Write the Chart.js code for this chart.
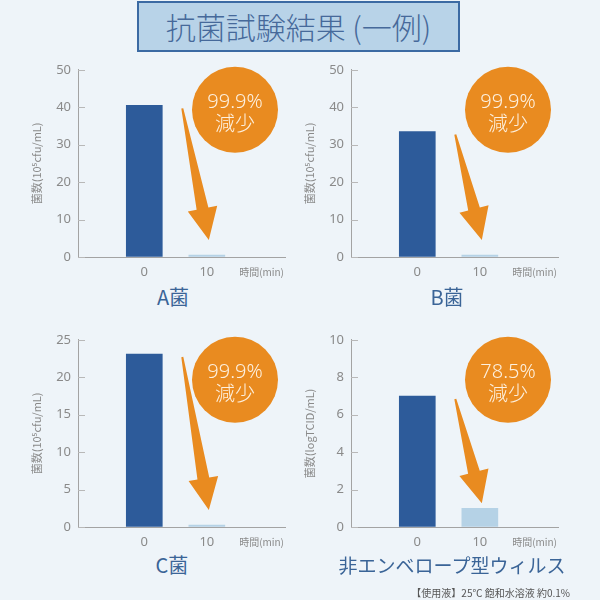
<!DOCTYPE html>
<html lang="ja">
<head>
<meta charset="utf-8">
<script src="https://cdn.jsdelivr.net/npm/chart.js@4/dist/chart.umd.min.js"></script>
<style>
  html, body { margin:0; padding:0; }
  body { width:600px; height:600px; background:#eef4f9; position:relative; overflow:hidden;
         font-family:"Noto Sans CJK JP","Noto Sans",sans-serif; }
  #title { position:absolute; left:137px; top:1px; width:323px; height:51px; box-sizing:border-box;
           border:2px solid #3b6aa3; background:#b8d3e8; color:#46699a; font-size:30px; font-weight:300;
           text-align:center; line-height:46px; white-space:nowrap; }
  canvas { position:absolute; }
  .cap { position:absolute; width:260px; height:30px; line-height:30px; text-align:center;
         color:#3a6497; font-size:20px; }
  #foot { position:absolute; right:30px; top:586px; font-size:10px; line-height:14px; color:#555; white-space:nowrap; }
</style>
</head>
<body>
<div id="title">抗菌試験結果 (一例)</div>
<canvas id="c0" width="290" height="225" style="left:0px;top:55px"></canvas>
<canvas id="c1" width="290" height="225" style="left:273px;top:55px"></canvas>
<canvas id="c2" width="290" height="225" style="left:0px;top:325px"></canvas>
<canvas id="c3" width="290" height="225" style="left:273px;top:325px"></canvas>
<div class="cap" id="cap0" style="left:43px;top:282px"></div>
<div class="cap" id="cap1" style="left:317px;top:282px"></div>
<div class="cap" id="cap2" style="left:42px;top:550px"></div>
<div class="cap" id="cap3" style="left:322px;top:550px;font-size:19px"></div>
<div id="foot">【使用液】25℃ 飽和水溶液 約0.1%</div>
<script>
// ---- data ----
const times = [0, 10];
const seriesA = [40.5, 0.04];
const seriesB = [33.5, 0.03];
const seriesC = [23.1, 0.02];
const seriesD = [7.0, 1.0];
const yMaxes = [50, 50, 25, 10];
const ySteps = [10, 10, 5, 2];
const reductions = ['99.9%', '99.9%', '99.9%', '78.5%'];
const captions = ['A菌', 'B菌', 'C菌', '非エンベロープ型ウィルス'];
const yTitles = ['菌数(10⁵cfu/mL)', '菌数(10⁵cfu/mL)', '菌数(10⁵cfu/mL)', '菌数(logTCID/mL)'];
const timeLabel = '時間(min)';
const reducedWord = '減少';
const allSeries = [seriesA, seriesB, seriesC, seriesD];

const DARK = '#2d5b9a', LIGHT = '#b5d2e6', ORANGE = '#e98b20', AXIS = '#a3a3a3', TICK = '#8a8a8a';

const decor = {
  id: 'decor',
  afterDatasetsDraw(chart, args, opts) {
    const ctx = chart.ctx, ca = chart.chartArea;
    const y = chart.scales.y;
    const meta = chart.getDatasetMeta(0);
    const b0 = meta.data[0], b1 = meta.data[1];
    ctx.save();
    // inward y tick marks
    ctx.strokeStyle = '#b8b8b8'; ctx.lineWidth = 1;
    y.ticks.forEach(t => {
      const py = Math.round(y.getPixelForValue(t.value)) + 0.5;
      ctx.beginPath(); ctx.moveTo(ca.left, py); ctx.lineTo(ca.left + 7, py); ctx.stroke();
    });
    // time label
    ctx.fillStyle = TICK; ctx.font = '10px "Noto Sans CJK JP","Noto Sans",sans-serif';
    ctx.textAlign = 'right'; ctx.textBaseline = 'middle';
    ctx.fillText(timeLabel, ca.right - 1, ca.bottom + 15);
    // circle
    const cx = ca.left + 157, cy = ca.top + 40, r = 43;
    ctx.fillStyle = ORANGE;
    ctx.beginPath(); ctx.arc(cx, cy, r, 0, Math.PI * 2); ctx.fill();
    ctx.fillStyle = '#fdf0df'; ctx.textAlign = 'center'; ctx.textBaseline = 'middle';
    ctx.font = '300 20px "Noto Sans","Noto Sans CJK JP",sans-serif';
    ctx.fillText(opts.pct, cx, cy - 8);
    ctx.font = '300 20px "Noto Sans CJK JP",sans-serif';
    ctx.fillText(reducedWord, cx, cy + 14);
    // arrow
    const sx = b0.x + b0.width / 2 + 20, sy = b0.y + 3;
    const tx = b1.x + 2, ty = Math.min(ca.bottom - 17, b1.y - 5);
    let dx = tx - sx, dy = ty - sy; const L = Math.hypot(dx, dy); dx /= L; dy /= L;
    const px = -dy, py = dx;
    const hl = 32, bx = tx - dx * hl, by = ty - dy * hl;
    ctx.fillStyle = ORANGE;
    ctx.beginPath();
    ctx.moveTo(sx + px * 1, sy + py * 1);
    ctx.lineTo(bx + px * 6, by + py * 6);
    ctx.lineTo(bx + px * 15, by + py * 15);
    ctx.lineTo(tx, ty);
    ctx.lineTo(bx - px * 15, by - py * 15);
    ctx.lineTo(bx - px * 6, by - py * 6);
    ctx.lineTo(sx - px * 1, sy - py * 1);
    ctx.closePath(); ctx.fill();
    ctx.restore();
  }
};

allSeries.forEach((vals, i) => {
  document.getElementById('cap' + i).textContent = captions[i];
  new Chart(document.getElementById('c' + i), {
    type: 'bar',
    data: {
      datasets: [{
        data: times.map((t, k) => ({ x: t, y: vals[k] })),
        backgroundColor: [DARK, LIGHT],
        barThickness: 36,
        minBarLength: 2,
        borderWidth: 0
      }]
    },
    plugins: [decor],
    options: {
      responsive: false,
      animation: false,
      devicePixelRatio: 1,
      layout: { padding: { top: 11, right: 5, left: 0, bottom: 0 } },
      plugins: {
        legend: { display: false },
        tooltip: { enabled: false },
        decor: { pct: reductions[i] }
      },
      scales: {
        x: {
          type: 'linear', min: -10.6, max: 22.5, offset: false,
          afterBuildTicks: s => { s.ticks = times.map(v => ({ value: v })); },
          afterFit: s => { s.height = 23; },
          grid: { display: true, drawOnChartArea: false, drawTicks: false, offset: false },
          border: { display: true, color: AXIS, width: 1 },
          ticks: { color: TICK, padding: 7, font: { size: 13, family: '"Noto Sans", sans-serif' },
                   callback: v => String(v), maxRotation: 0 }
        },
        y: {
          min: 0, max: yMaxes[i],
          afterFit: s => { s.width = 78; },
          grid: { display: true, drawOnChartArea: false, drawTicks: false },
          border: { display: true, color: AXIS, width: 1 },
          ticks: { stepSize: ySteps[i], color: TICK, padding: 7,
                   font: { size: 13, family: '"Noto Sans", sans-serif' } },
          title: { display: true, text: yTitles[i], color: TICK,
                   font: { size: 11, family: '"Noto Sans CJK JP","Noto Sans",sans-serif' },
                   padding: { top: 30, bottom: 0 } }
        }
      }
    }
  });
});
</script>
</body>
</html>
